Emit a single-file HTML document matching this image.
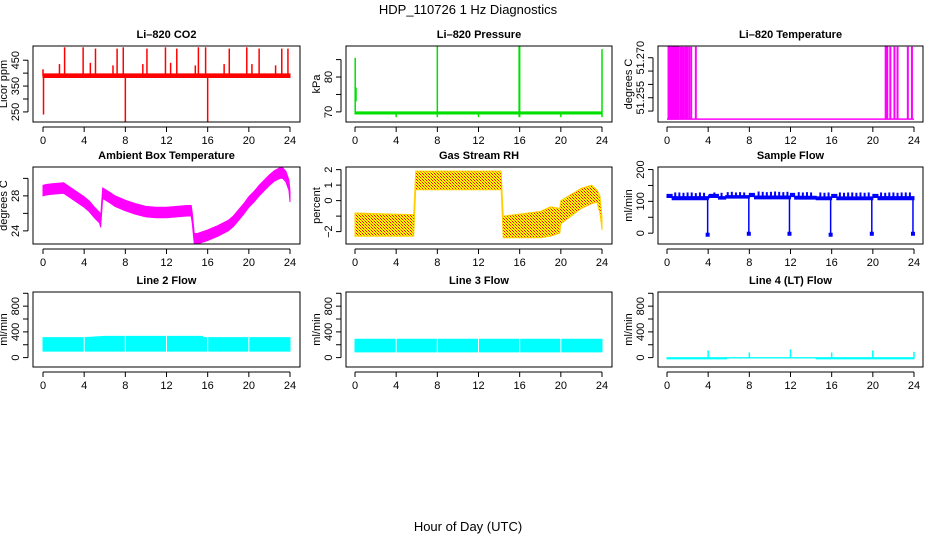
<!DOCTYPE html>
<html><head><meta charset="utf-8"><style>
body{margin:0;background:#fff}
svg{display:block;font-family:"Liberation Sans",sans-serif}
</style></head><body>
<svg id="c" width="936" height="540" xmlns="http://www.w3.org/2000/svg">
<defs><pattern id="rhp" width="3" height="3" patternUnits="userSpaceOnUse"><rect width="3" height="3" fill="#ffff00"/><rect width="1" height="1" fill="#ff0000"/><rect x="2" y="2" width="1" height="1" fill="#ff0000"/><rect x="1" y="1" width="1" height="1" fill="#ff8000"/></pattern></defs>
<text x="468" y="14" text-anchor="middle" font-size="13">HDP_110726  1 Hz Diagnostics</text>
<text x="468" y="531" text-anchor="middle" font-size="13">Hour of Day (UTC)</text>
</svg>
<script>
// ---- data arrays ----
const xTicks=[0,4,8,12,16,20,24];
// CO2
const co2BandX=[0,24], co2BandLo=[383,383], co2BandHi=[397,397];
const co2SpikeX=[2.1,3.9,5.1,7.2,7.8,10.1,11.9,13.0,15.1,15.8,18.1,19.8,21.0,23.2,23.8,1.6,4.6,6.8,9.7,12.4,14.8,17.6,20.3,22.6,0.0,0.05,8.0,16.0];
const co2SpikeY=[500,500,495,495,500,495,500,495,500,500,495,500,495,495,495,435,440,430,435,440,430,435,435,430,415,240,212,212];
const co2Ticks=[250,300,350,400,450], co2Labels=["250","350","450"], co2LabelV=[250,350,450];
// Pressure
const presBandX=[0,24], presBandLo=[69.4,69.4], presBandHi=[70.0,70.0];
const presSpikeX=[0.02,0.1,8.0,16.0,15.95,24.0,4.0,12.0,20.0];
const presSpikeLo=[69.7,73,68.5,68.5,68.5,68.5,68.5,68.5,68.5];
const presSpikeHi=[85.5,77,88.9,88.9,88.9,88.0,69.7,69.7,69.7];
const presTicks=[70,75,80,85], presLabels=["70","80"], presLabelV=[70,80];
// Li-820 temperature
const tempLow=51.2470, tempHigh=51.2741;
const tempBlockX0=[0.1,21.2], tempBlockX1=[1.15,21.45];
const tempPulseX=[1.3,1.45,1.6,1.8,1.95,2.15,2.35,2.8,21.7,22.1,22.4,23.4,23.8];
const tempTicks=[51.25,51.255,51.26,51.265,51.27], tempLabels=["51.255","51.270"], tempLabelV=[51.255,51.27];
// Ambient box temperature
const ambX=[0,0.3,1,2,2.5,3,3.5,4,4.5,5,5.5,5.6,5.8,6.5,7,8,9,10,11,12,13,14,14.4,14.5,14.7,15,16,17,18,18.5,19,19.5,20,20.5,21,21.5,22,22.5,23,23.3,23.6,23.9,24];
const ambMid=[28.6,28.7,28.8,28.9,28.5,28.1,27.7,27.3,26.8,26.1,25.5,25.0,28.3,27.8,27.4,26.9,26.5,26.2,26.1,26.1,26.2,26.3,26.3,25.5,23.1,23.1,23.5,24.0,24.6,25.1,25.8,26.5,27.3,27.9,28.6,29.2,29.8,30.3,30.6,30.6,30.2,29.2,27.9];
const ambHalf=0.6;
const ambTicks=[24,26,28,30], ambLabels=["24","28"], ambLabelV=[24,28];
// Gas stream RH
const rhX=[0,5.7,5.9,14.2,14.4,18,19,19.9,20,21,22,23,23.5,23.8,24];
const rhLo=[-2.3,-2.3,0.7,0.7,-2.4,-2.4,-2.3,-2.1,-1.5,-1.0,-0.5,-0.2,-0.1,-0.8,-1.9];
const rhHi=[-0.8,-0.9,1.9,1.9,-1.0,-0.7,-0.4,-0.5,0.0,0.4,0.8,1.0,0.7,0.3,-1.1];
const rhTicks=[-2,-1,0,1,2], rhLabels=["\u22122","0","1","2"], rhLabelV=[-2,0,1,2];
// Sample flow
const sfX=[0,0.5,0.5,4,4.1,5,5,5.7,5.7,8,8,8.5,8.5,12,12,12.4,12.4,14.5,14.5,16,16,16.5,16.5,20,20,20.5,20.5,24];
const sfLo=[112,112,105,105,112,112,107,107,110,110,115,115,108,108,115,115,107,107,105,105,112,112,105,105,112,112,105,105];
const sfHi=[122,122,115,115,122,122,115,115,118,118,125,125,117,117,125,125,116,116,114,114,122,122,114,114,122,122,115,115];
const sfBumpX=[0.8,1.2,1.6,2.0,2.4,2.8,3.2,3.6,4.6,5.3,5.9,6.3,6.7,7.1,7.5,8.9,9.3,9.7,10.1,10.5,10.9,11.3,11.7,12.8,13.2,13.6,14.0,14.9,15.3,15.7,16.8,17.2,17.6,18.0,18.4,18.8,19.2,19.6,20.8,21.2,21.6,22.0,22.4,22.8,23.2,23.6];
const sfBumpY=[128,128,127,128,128,126,128,127,128,127,129,130,128,129,128,131,130,129,130,131,130,129,130,129,128,129,128,128,127,128,128,127,128,128,127,128,127,128,128,127,128,128,127,128,128,128];
const sfDropX=[3.95,7.95,11.9,15.9,19.9,23.9];
const sfDropY=[-8,-5,-5,-8,-5,-5];
const sfTicks=[0,50,100,150,200], sfLabels=["0","100","200"], sfLabelV=[0,100,200];
// Line flows
const l2X=[0,4,4,6,6,15.5,15.5,24], l2Lo=[100,100,100,100,100,100,100,100], l2Hi=[310,310,310,330,330,330,310,310];
const l3X=[0,24], l3Lo=[90,90], l3Hi=[285,285];
const gapX=[4,8,12,16,20];
const l4X=[0,5.8,5.8,14.5,14.5,24], l4Lo=[-20,-20,-6,-6,-20,-20], l4Hi=[0,0,0,0,0,0];
const l4SpikeX=[4,8,12,16,20,24], l4SpikeY=[110,80,130,80,110,90];
const flowTicks=[0,200,400,600,800,1000], flowLabels=["0","400","800"], flowLabelV=[0,400,800];

// ---- layout ----
const NS="http://www.w3.org/2000/svg";
const svg=document.getElementById('c');
const cols=[[33,300,43,290],[346,612,355,602],[658,923,667,914]];
const rows=[[46,122],[167,244],[292,367]];
function el(t,a,p){const e=document.createElementNS(NS,t);for(const k in a)e.setAttribute(k,a[k]);(p||svg).appendChild(e);return e;}
function panel(name,c,r,ylim,yt,yl,ylv,ytitle,title){
  const [bl,br,d0,d1]=cols[c],[bt,bb]=rows[r];
  const g=el('g',{});
  
  
  const sx=h=>d0+(d1-d0)*h/24;
  const sy=v=>bb-(bb-bt)*(v-ylim[0])/(ylim[1]-ylim[0]);
  const t=el('text',{x:(bl+br)/2,y:bt-8,'text-anchor':'middle','font-size':11,'font-weight':'bold'},g);t.textContent=title;
  
  const plot=el('g',{},g);
  el('rect',{x:bl,y:bt,width:br-bl,height:bb-bt,fill:'none',stroke:'#000','stroke-width':1},g);
  const ax=el('g',{stroke:'#000','stroke-width':1},g);
  
  el('line',{x1:sx(0),x2:sx(24),y1:bb+5,y2:bb+5},ax);
  xTicks.forEach(h=>{el('line',{x1:sx(h),x2:sx(h),y1:bb+5,y2:bb+10},ax);
    const tx=el('text',{x:sx(h),y:bb+22,'text-anchor':'middle','font-size':11,stroke:'none'},ax);tx.textContent=h;});
  const ay=el('g',{stroke:'#000'},g);
  
  el('line',{x1:bl-5,x2:bl-5,y1:sy(yt[0]),y2:sy(yt[yt.length-1])},ay);
  yt.forEach(v=>el('line',{x1:bl-10,x2:bl-5,y1:sy(v),y2:sy(v)},ay));
  ylv.forEach((v,i)=>{const tx=el('text',{x:0,y:0,'text-anchor':'middle','font-size':11,stroke:'none',transform:`translate(${bl-14},${sy(v)}) rotate(-90)`},ay);tx.textContent=yl[i];});
  const yt2=el('text',{x:0,y:0,'text-anchor':'middle','font-size':11,transform:`translate(${bl-26},${(bt+bb)/2}) rotate(-90)`},g);yt2.textContent=ytitle;
  
  return {sx,sy,plot,bt,bb};
}
function band(p,xs,lo,hi,fill,name){
  let pts=xs.map((x,i)=>p.sx(x)+','+p.sy(hi[i]));
  for(let i=xs.length-1;i>=0;i--)pts.push(p.sx(xs[i])+','+p.sy(lo[i]));
  const e=el('polygon',{points:pts.join(' '),fill:fill,stroke:fill.startsWith('url')?'#ffd000':fill,'stroke-width':1},p.plot);
  
}
function vline(p,x,y0,y1,col,w,name){
  const e=el('line',{x1:p.sx(x),x2:p.sx(x),y1:p.sy(y0),y2:p.sy(y1),stroke:col,'stroke-width':w||1.5},p.plot);
  
}
// CO2
let p=panel('co2-panel',0,0,[211,505],co2Ticks,co2Labels,co2LabelV,'Licor ppm','Li\u2013820 CO2');
band(p,co2BandX,co2BandLo,co2BandHi,'#ff0000','co2-series');
co2SpikeX.forEach((x,i)=>vline(p,x,390,co2SpikeY[i],'#ff0000',1.5,'co2-spike'));
// Pressure
p=panel('pressure-panel',1,0,[67.1,88.9],presTicks,presLabels,presLabelV,'kPa','Li\u2013820 Pressure');
band(p,presBandX,presBandLo,presBandHi,'#00e000','pressure-series');
presSpikeX.forEach((x,i)=>vline(p,x,presSpikeLo[i],presSpikeHi[i],'#00e000',1.5,'pressure-spike'));
// Temperature
p=panel('li820-temp-panel',2,0,[51.2459,51.2744],tempTicks,tempLabels,tempLabelV,'degrees C','Li\u2013820 Temperature');
{const e=el('line',{x1:p.sx(0),x2:p.sx(24),y1:p.sy(tempLow),y2:p.sy(tempLow),stroke:'#ff00ff','stroke-width':1.5},p.plot);
}
tempBlockX0.forEach((x,i)=>band(p,[x,tempBlockX1[i]],[tempLow,tempLow],[tempHigh,tempHigh],'#ff00ff','temp-block'));
tempPulseX.forEach(x=>vline(p,x,tempLow,tempHigh,'#ff00ff',2,'temp-pulse'));
// Ambient
p=panel('ambient-temp-panel',0,1,[22.5,31.3],ambTicks,ambLabels,ambLabelV,'degrees C','Ambient Box Temperature');
band(p,ambX,ambMid.map(v=>v-ambHalf),ambMid.map(v=>v+ambHalf),'#ff00ff','ambient-series');
// RH
p=panel('rh-panel',1,1,[-2.8,2.17],rhTicks,rhLabels,rhLabelV,'percent','Gas Stream RH');
band(p,rhX,rhLo,rhHi,'url(#rhp)','rh-series');
// Sample flow
p=panel('sample-flow-panel',2,1,[-34,208],sfTicks,sfLabels,sfLabelV,'ml/min','Sample Flow');
band(p,sfX,sfLo,sfHi,'#0000ff','sample-flow-series');
sfBumpX.forEach((x,i)=>vline(p,x,115,sfBumpY[i],'#0000ff',2,'sample-flow-bump'));
sfDropX.forEach((x,i)=>{vline(p,x,115,sfDropY[i],'#0000ff',1.5,'sample-flow-drop');
 const e=el('rect',{x:p.sx(x)-2,y:p.sy(sfDropY[i])-3,width:4,height:4,fill:'#0000ff'},p.plot);
 });
// Line 2
p=panel('line2-flow-panel',0,2,[-146,1020],flowTicks,flowLabels,flowLabelV,'ml/min','Line 2 Flow');
band(p,l2X,l2Lo,l2Hi,'#00ffff','line2-series');
gapX.forEach(x=>vline(p,x,90,340,'#ffffff',1,'line2-gap'));
// Line 3
p=panel('line3-flow-panel',1,2,[-146,1020],flowTicks,flowLabels,flowLabelV,'ml/min','Line 3 Flow');
band(p,l3X,l3Lo,l3Hi,'#00ffff','line3-series');
gapX.forEach(x=>vline(p,x,80,300,'#ffffff',1,'line3-gap'));
// Line 4
p=panel('line4-flow-panel',2,2,[-146,1020],flowTicks,flowLabels,flowLabelV,'ml/min','Line 4 (LT) Flow');
band(p,l4X,l4Lo,l4Hi,'#00ffff','line4-series');
l4SpikeX.forEach((x,i)=>vline(p,x,0,l4SpikeY[i],'#00ffff',1.5,'line4-spike'));
</script>
</body></html>
